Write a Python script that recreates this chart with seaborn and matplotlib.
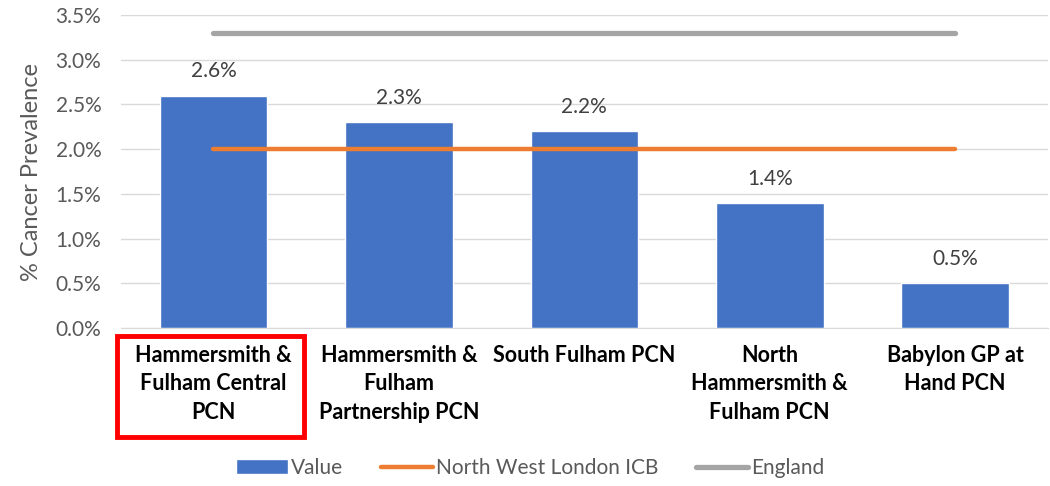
import matplotlib.pyplot as plt
import seaborn as sns
from matplotlib.patches import Rectangle
from matplotlib.lines import Line2D
from matplotlib.patches import Patch

categories = [
    "Hammersmith &\nFulham Central\nPCN",
    "Hammersmith &\nFulham\nPartnership PCN",
    "South Fulham PCN",
    "North\nHammersmith &\nFulham PCN",
    "Babylon GP at\nHand PCN",
]
values = [2.6, 2.3, 2.2, 1.4, 0.5]
nwl_icb = [2.0, 2.0, 2.0, 2.0, 2.0]
england = [3.3, 3.3, 3.3, 3.3, 3.3]

sns.set_style("white")
plt.rcParams["font.family"] = ["Lato", "DejaVu Sans"]

fig = plt.figure(figsize=(10.5, 4.86), dpi=100)
ax = fig.add_axes([0.115, 0.325, 0.883, 0.644])

sns.barplot(x=categories, y=values, ax=ax, color="#4472C4", width=0.58,
            saturation=1)
ax.plot(categories, nwl_icb, color="#ED7D31", lw=3.2, solid_capstyle="round",
        zorder=3)
ax.plot(categories, england, color="#A5A5A5", lw=3.8, solid_capstyle="round",
        zorder=3)

for i, v in enumerate(values):
    ax.text(i, v + 0.16, f"{v:.1f}%", ha="center", va="bottom",
            fontsize=15, color="#404040")

ax.set_ylim(0, 3.5)
ax.set_xlim(-0.5, 4.5)
ax.set_yticks([0, 0.5, 1.0, 1.5, 2.0, 2.5, 3.0, 3.5])
ax.set_yticklabels([f"{t:.1f}%" for t in ax.get_yticks()], fontsize=15,
                   color="#595959")
ax.yaxis.grid(True, color="#D9D9D9", lw=1)
ax.set_axisbelow(True)
for s in ["top", "right", "left"]:
    ax.spines[s].set_visible(False)
ax.spines["bottom"].set_color("#D9D9D9")
ax.tick_params(axis="y", length=0, pad=14)
ax.tick_params(axis="x", length=0, pad=12)
ax.set_xticks(range(len(categories)))
ax.set_xticklabels(categories, fontsize=15.5, fontweight="bold", color="black",
                   linespacing=1.45)
ax.set_ylabel("% Cancer Prevalence", fontsize=17, color="#595959", labelpad=10)

# red highlight box around the first category label
fig.patches.append(Rectangle((117 / 1050, 1 - 437 / 486), 187 / 1050, 101 / 486,
                             transform=fig.transFigure, fill=False,
                             edgecolor="#FF0000", lw=3.5, zorder=5))

handles = [
    Patch(facecolor="#4472C4", label="Value"),
    Line2D([], [], color="#ED7D31", lw=3.2, label="North West London ICB"),
    Line2D([], [], color="#A5A5A5", lw=3.8, label="England"),
]
leg = fig.legend(handles=handles, loc="center", bbox_to_anchor=(0.505, 0.037),
                 ncol=3, frameon=False, fontsize=15, handlelength=2.5,
                 handletextpad=0.15, columnspacing=1.8)
for t in leg.get_texts():
    t.set_color("#595959")

fig.savefig("out.png", dpi=100)
